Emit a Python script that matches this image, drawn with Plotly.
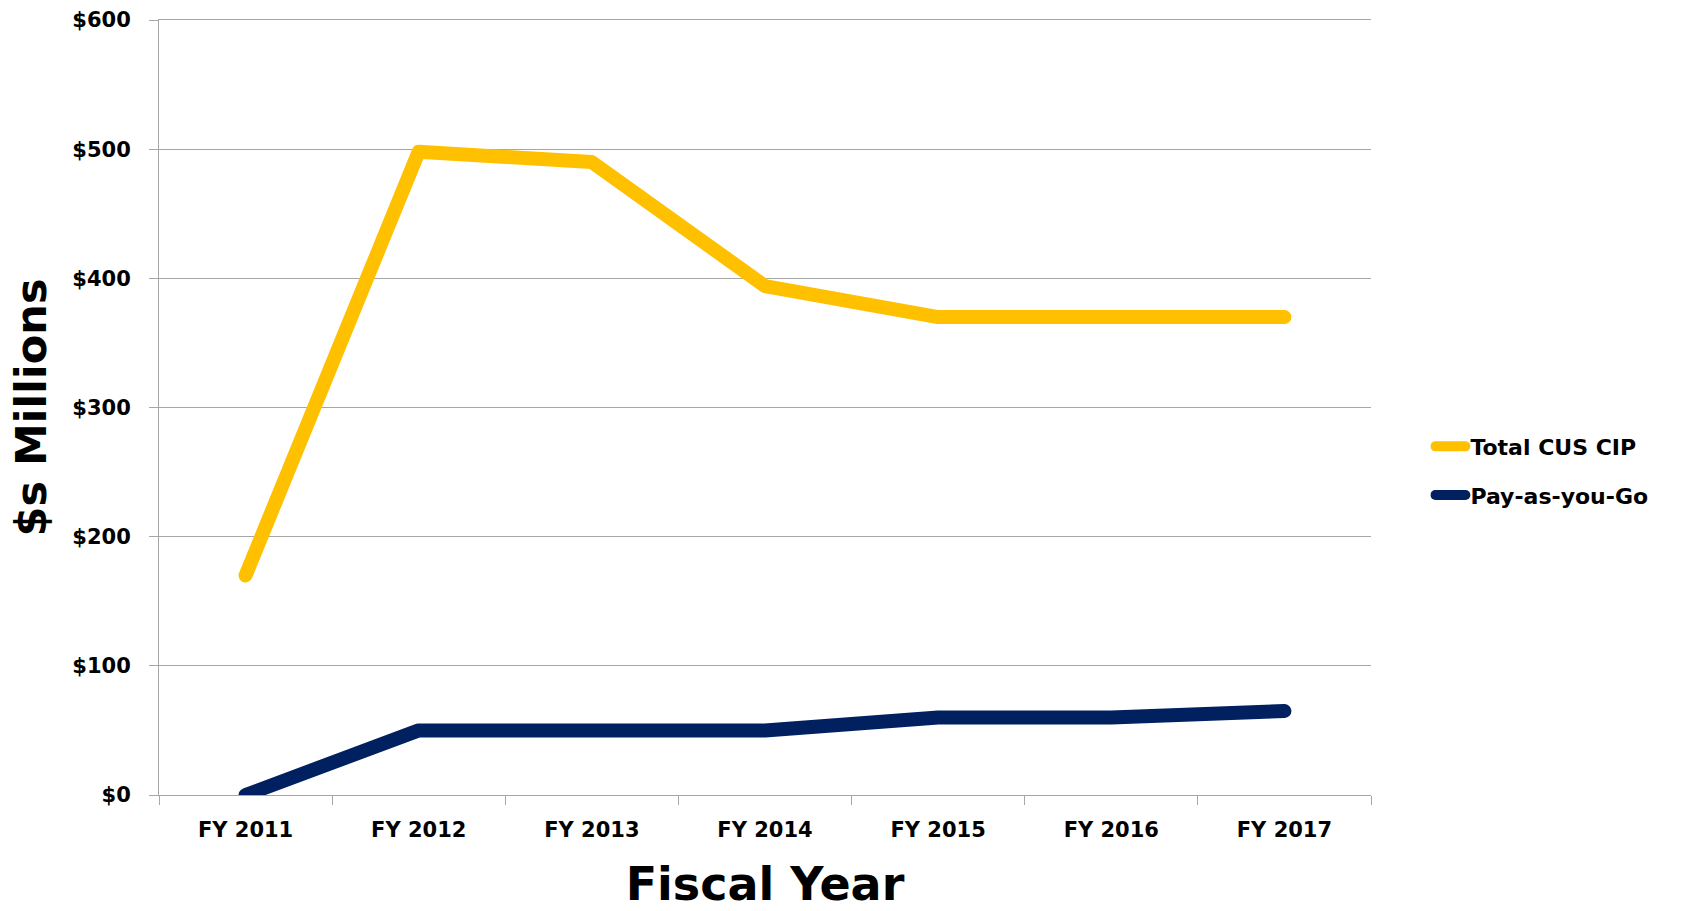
import plotly.graph_objects as go

years = ["FY 2011", "FY 2012", "FY 2013", "FY 2014", "FY 2015", "FY 2016", "FY 2017"]
total_cus_cip = [170, 498, 490, 394, 370, 370, 370]
pay_as_you_go = [0, 50, 50, 50, 60, 60, 65]
y_tickvals = [0, 100, 200, 300, 400, 500, 600]
y_ticktext = ["$0", "$100", "$200", "$300", "$400", "$500", "$600"]

FONT = "DejaVu Sans"
GRID = "#a6a6a6"

fig = go.Figure()
fig.add_trace(go.Scatter(x=years, y=total_cus_cip, mode="lines", name="Total CUS CIP",
                         legendgroup="a",
                         line=dict(color="#FFC000", width=14)))
fig.add_trace(go.Scatter(x=years, y=pay_as_you_go, mode="lines", name="Pay-as-you-Go",
                         legendgroup="b",
                         line=dict(color="#002060", width=14)))

fig.update_layout(
    width=1689, height=911,
    margin=dict(l=159, r=318, t=20, b=116, autoexpand=False),
    paper_bgcolor="white", plot_bgcolor="white",
    font=dict(family=FONT, color="black"),
    legend=dict(x=1.049, y=0.418, xanchor="left", yanchor="middle",
                font=dict(family=FONT, size=22, color="black", weight="bold"),
                traceorder="grouped", tracegroupgap=17, itemwidth=30),
    xaxis=dict(
        type="category", range=[-0.5, 6.5], tickson="boundaries", ticks="outside", ticklen=9,
        tickcolor=GRID, showline=True, linecolor=GRID, linewidth=1, mirror=True, showgrid=False,
        automargin=False,
        tickfont=dict(family=FONT, size=21, weight="bold"),
        ticklabelstandoff=16,
        title=dict(text="Fiscal Year", font=dict(family=FONT, size=46, weight="bold"), standoff=39),
    ),
    yaxis=dict(
        range=[0, 600], tickvals=y_tickvals, ticktext=y_ticktext,
        ticks="outside", ticklen=9, tickcolor=GRID,
        showline=True, linecolor=GRID, linewidth=1,
        showgrid=True, gridcolor=GRID, gridwidth=1, zeroline=False,
        automargin=False,
        tickfont=dict(family=FONT, size=21, weight="bold"),
        ticklabelstandoff=14,
        title=dict(text="$s Millions", font=dict(family=FONT, size=43, weight="bold"), standoff=12),
    ),
)

post = """
var s = document.createElement('style');
s.textContent = '.scatterlayer .js-line, .legend .js-line {stroke-linecap: round; stroke-linejoin: round;}';
document.head.appendChild(s);
"""

fig.write_html("out.html", post_script=post)
